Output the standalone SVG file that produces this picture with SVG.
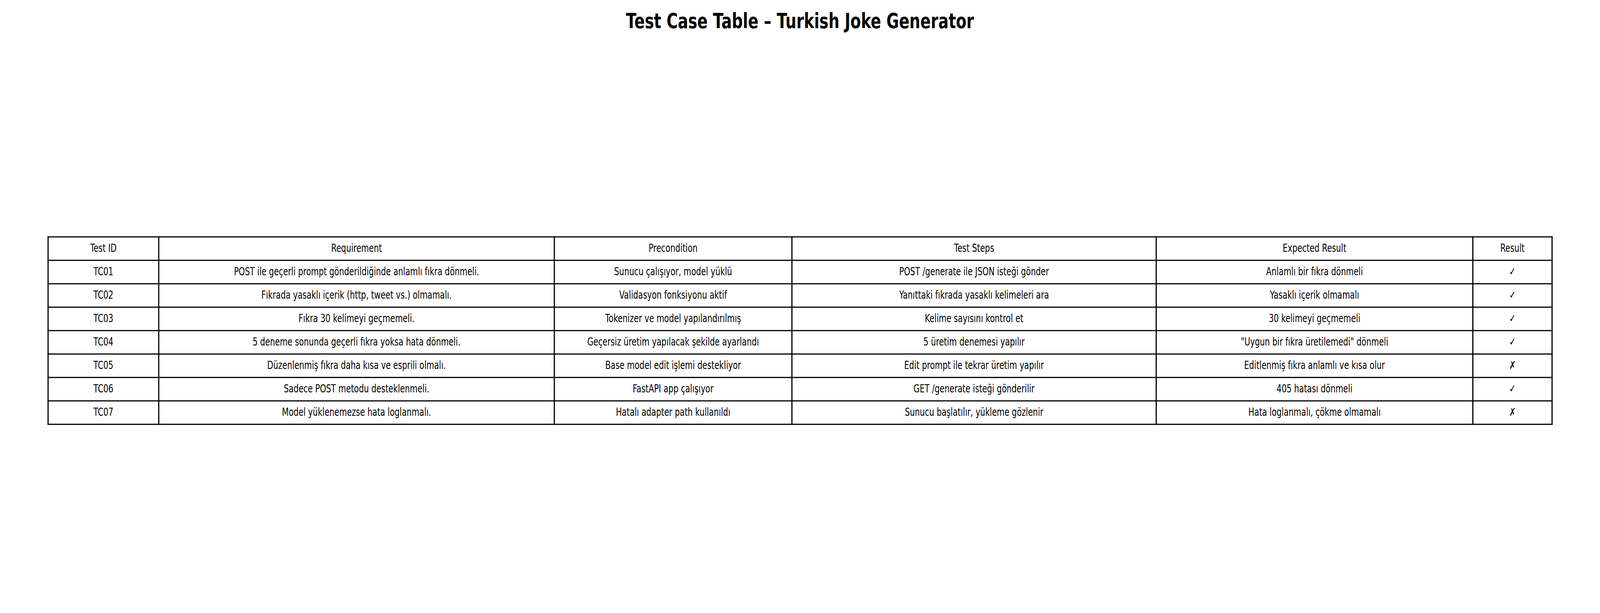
<svg xmlns="http://www.w3.org/2000/svg" width="5640" height="1570" viewBox="0 0 5640 1570" preserveAspectRatio="none">
<style>
  :root { width: 100vw; height: 100vh; }
  .title { font-family: "DejaVu Sans", "Liberation Sans", sans-serif; font-weight: bold; font-size: 54px; fill: #000; text-anchor: middle; }
  .cell { font-family: "DejaVu Sans", "Liberation Sans", sans-serif; font-size: 27.8px; fill: #000; text-anchor: middle; }
  .grid line { stroke: #000; stroke-width: 3; stroke-linecap: square; vector-effect: non-scaling-stroke; }
</style>
<rect x="0" y="0" width="5640" height="1570" fill="#ffffff"/>
<text id="title" class="title" x="2820" y="71.7">Test Case Table – Turkish Joke Generator</text>

<g id="grid" class="grid">
  <line x1="169.5" y1="606.7" x2="5471" y2="606.7"/>
  <line x1="169.5" y1="666.7" x2="5471" y2="666.7"/>
  <line x1="169.5" y1="726.7" x2="5471" y2="726.7"/>
  <line x1="169.5" y1="786.7" x2="5471" y2="786.7"/>
  <line x1="169.5" y1="846.7" x2="5471" y2="846.7"/>
  <line x1="169.5" y1="906.7" x2="5471" y2="906.7"/>
  <line x1="169.5" y1="966.7" x2="5471" y2="966.7"/>
  <line x1="169.5" y1="1026.7" x2="5471" y2="1026.7"/>
  <line x1="169.5" y1="1086.7" x2="5471" y2="1086.7"/>
  <line x1="169.5" y1="606.7" x2="169.5" y2="1086.7"/>
  <line x1="559.5" y1="606.7" x2="559.5" y2="1086.7"/>
  <line x1="1954" y1="606.7" x2="1954" y2="1086.7"/>
  <line x1="2791.5" y1="606.7" x2="2791.5" y2="1086.7"/>
  <line x1="4075.7" y1="606.7" x2="4075.7" y2="1086.7"/>
  <line x1="5191.7" y1="606.7" x2="5191.7" y2="1086.7"/>
  <line x1="5471" y1="606.7" x2="5471" y2="1086.7"/>
</g>

<g id="row-header" class="cell">
  <text x="364.5" y="645.2">Test ID</text>
  <text x="1256.75" y="645.2">Requirement</text>
  <text x="2372.75" y="645.2">Precondition</text>
  <text x="3433.6" y="645.2">Test Steps</text>
  <text x="4633.7" y="645.2">Expected Result</text>
  <text x="5331.35" y="645.2">Result</text>
</g>
<g id="row-TC01" class="cell">
  <text x="364.5" y="705.2">TC01</text>
  <text x="1256.75" y="705.2">POST ile geçerli prompt gönderildiğinde anlamlı fıkra dönmeli.</text>
  <text x="2372.75" y="705.2">Sunucu çalışıyor, model yüklü</text>
  <text x="3433.6" y="705.2">POST /generate ile JSON isteği gönder</text>
  <text x="4633.7" y="705.2">Anlamlı bir fıkra dönmeli</text>
  <text x="5331.35" y="705.2">✓</text>
</g>
<g id="row-TC02" class="cell">
  <text x="364.5" y="765.2">TC02</text>
  <text x="1256.75" y="765.2">Fıkrada yasaklı içerik (http, tweet vs.) olmamalı.</text>
  <text x="2372.75" y="765.2">Validasyon fonksiyonu aktif</text>
  <text x="3433.6" y="765.2">Yanıttaki fıkrada yasaklı kelimeleri ara</text>
  <text x="4633.7" y="765.2">Yasaklı içerik olmamalı</text>
  <text x="5331.35" y="765.2">✓</text>
</g>
<g id="row-TC03" class="cell">
  <text x="364.5" y="825.2">TC03</text>
  <text x="1256.75" y="825.2">Fıkra 30 kelimeyi geçmemeli.</text>
  <text x="2372.75" y="825.2">Tokenizer ve model yapılandırılmış</text>
  <text x="3433.6" y="825.2">Kelime sayısını kontrol et</text>
  <text x="4633.7" y="825.2">30 kelimeyi geçmemeli</text>
  <text x="5331.35" y="825.2">✓</text>
</g>
<g id="row-TC04" class="cell">
  <text x="364.5" y="885.2">TC04</text>
  <text x="1256.75" y="885.2">5 deneme sonunda geçerli fıkra yoksa hata dönmeli.</text>
  <text x="2372.75" y="885.2">Geçersiz üretim yapılacak şekilde ayarlandı</text>
  <text x="3433.6" y="885.2">5 üretim denemesi yapılır</text>
  <text x="4633.7" y="885.2">"Uygun bir fıkra üretilemedi" dönmeli</text>
  <text x="5331.35" y="885.2">✓</text>
</g>
<g id="row-TC05" class="cell">
  <text x="364.5" y="945.2">TC05</text>
  <text x="1256.75" y="945.2">Düzenlenmiş fıkra daha kısa ve esprili olmalı.</text>
  <text x="2372.75" y="945.2">Base model edit işlemi destekliyor</text>
  <text x="3433.6" y="945.2">Edit prompt ile tekrar üretim yapılır</text>
  <text x="4633.7" y="945.2">Editlenmiş fıkra anlamlı ve kısa olur</text>
  <text x="5331.35" y="945.2">✗</text>
</g>
<g id="row-TC06" class="cell">
  <text x="364.5" y="1005.2">TC06</text>
  <text x="1256.75" y="1005.2">Sadece POST metodu desteklenmeli.</text>
  <text x="2372.75" y="1005.2">FastAPI app çalışıyor</text>
  <text x="3433.6" y="1005.2">GET /generate isteği gönderilir</text>
  <text x="4633.7" y="1005.2">405 hatası dönmeli</text>
  <text x="5331.35" y="1005.2">✓</text>
</g>
<g id="row-TC07" class="cell">
  <text x="364.5" y="1065.2">TC07</text>
  <text x="1256.75" y="1065.2">Model yüklenemezse hata loglanmalı.</text>
  <text x="2372.75" y="1065.2">Hatalı adapter path kullanıldı</text>
  <text x="3433.6" y="1065.2">Sunucu başlatılır, yükleme gözlenir</text>
  <text x="4633.7" y="1065.2">Hata loglanmalı, çökme olmamalı</text>
  <text x="5331.35" y="1065.2">✗</text>
</g>
</svg>
